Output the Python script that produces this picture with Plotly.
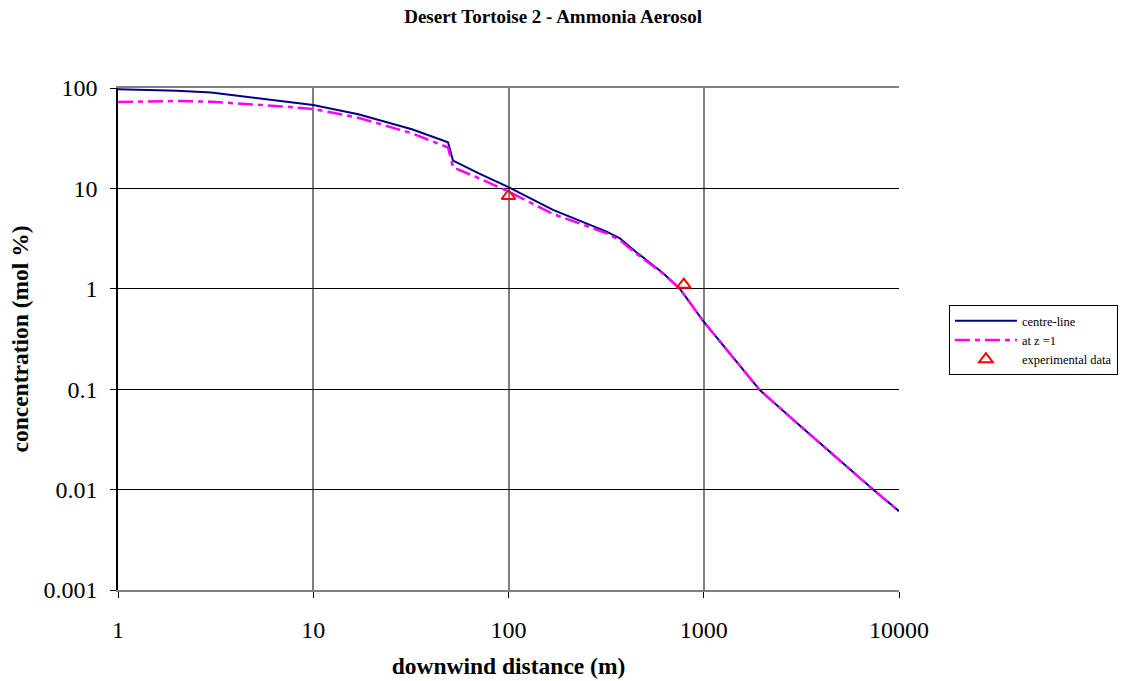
import plotly.graph_objects as go

# ---- data ----
distance = [1, 1.5, 2, 3, 5, 7, 10, 17, 32, 49, 52, 70, 100, 169, 250, 318, 372, 450,
            620, 755, 1000, 1500, 1937, 3000, 5000, 7370, 10000]
centre_line = [97, 96, 94, 90, 80, 74, 67.8, 54.7, 38.8, 28.8, 18.9, 14.2, 10.3, 6.1, 4.49,
               3.71, 3.18, 2.33, 1.43, 1.0, 0.47, 0.181, 0.098, 0.046, 0.0193, 0.01, 0.0061]
at_z1 = [72.6, 73.5, 74.2, 73, 69, 65.5, 61.8, 50.6, 35.4, 25.6, 16.2, 12.7, 9.3, 5.56, 4.24,
         3.57, 3.05, 2.25, 1.41, 1.0, 0.47, 0.181, 0.098, 0.046, 0.0193, 0.01, 0.0061]
exp_x = [100, 790]
exp_y = [8.4, 1.1]

x_ticks = [1, 10, 100, 1000, 10000]
x_tick_text = ["1", "10", "100", "1000", "10000"]
y_ticks = [0.001, 0.01, 0.1, 1, 10, 100]
y_tick_text = ["0.001", "0.01", "0.1", "1", "10", "100"]

FONT = "Liberation Serif, Times New Roman, serif"

fig = go.Figure()
fig.add_trace(go.Scatter(x=distance, y=centre_line, mode="lines", name="centre-line",
                         line=dict(color="#000080", width=2)))
fig.add_trace(go.Scatter(x=distance, y=at_z1, mode="lines", name="at z =1",
                         line=dict(color="#FF00FF", width=2.5, dash="15px,5px,5px,5px")))
fig.add_trace(go.Scatter(x=exp_x, y=exp_y, mode="markers", name="experimental data",
                         marker=dict(symbol="triangle-up-open", size=12, color="#FF0000",
                                     line=dict(width=2, color="#FF0000"))))

fig.update_layout(
    width=1123, height=681,
    margin=dict(l=118, r=224, t=88, b=91, autoexpand=False),
    paper_bgcolor="white", plot_bgcolor="white",
    font=dict(family=FONT, color="black"),
    title=dict(text="<b>Desert Tortoise 2 - Ammonia Aerosol</b>", x=0.4925, xref="container",
               xanchor="center", y=0.9765, yanchor="middle", font=dict(size=19, family=FONT)),
    showlegend=True,
    legend=dict(x=0.845, y=0.552, xref="container", yref="container",
                xanchor="left", yanchor="top",
                bordercolor="black", borderwidth=1, bgcolor="white",
                font=dict(size=12.5, family=FONT), tracegroupgap=0, itemwidth=62),
)

fig.update_xaxes(
    type="log", range=[0, 4], automargin=False,
    tickvals=x_ticks, ticktext=x_tick_text,
    tickfont=dict(size=24, family=FONT),
    showgrid=True, gridcolor="#808080", gridwidth=1.5,
    showline=True, linecolor="#808080", linewidth=2, mirror=True,
    ticks="outside", ticklen=6, tickcolor="black", tickwidth=1,
    ticklabelstandoff=11,
    zeroline=False,
    title=dict(text="<b>downwind distance (m)</b>", font=dict(size=23.5, family=FONT), standoff=16),
)
fig.update_yaxes(
    type="log", range=[-3, 2], automargin=False,
    tickvals=y_ticks, ticktext=y_tick_text,
    tickfont=dict(size=24, family=FONT),
    showgrid=True, gridcolor="black", gridwidth=1,
    showline=True, linecolor="black", linewidth=1.5, mirror=False,
    ticks="outside", ticklen=6, tickcolor="black", tickwidth=1,
    ticklabelstandoff=8,
    zeroline=False,
    title=dict(text="<b>concentration (mol %)</b>", font=dict(size=23.5, family=FONT), standoff=8),
)

# remove the default 8px page margin so the figure fills the window exactly
fig.write_html("out.html", config={"displayModeBar": False},
               post_script="document.body.style.margin='0';")
